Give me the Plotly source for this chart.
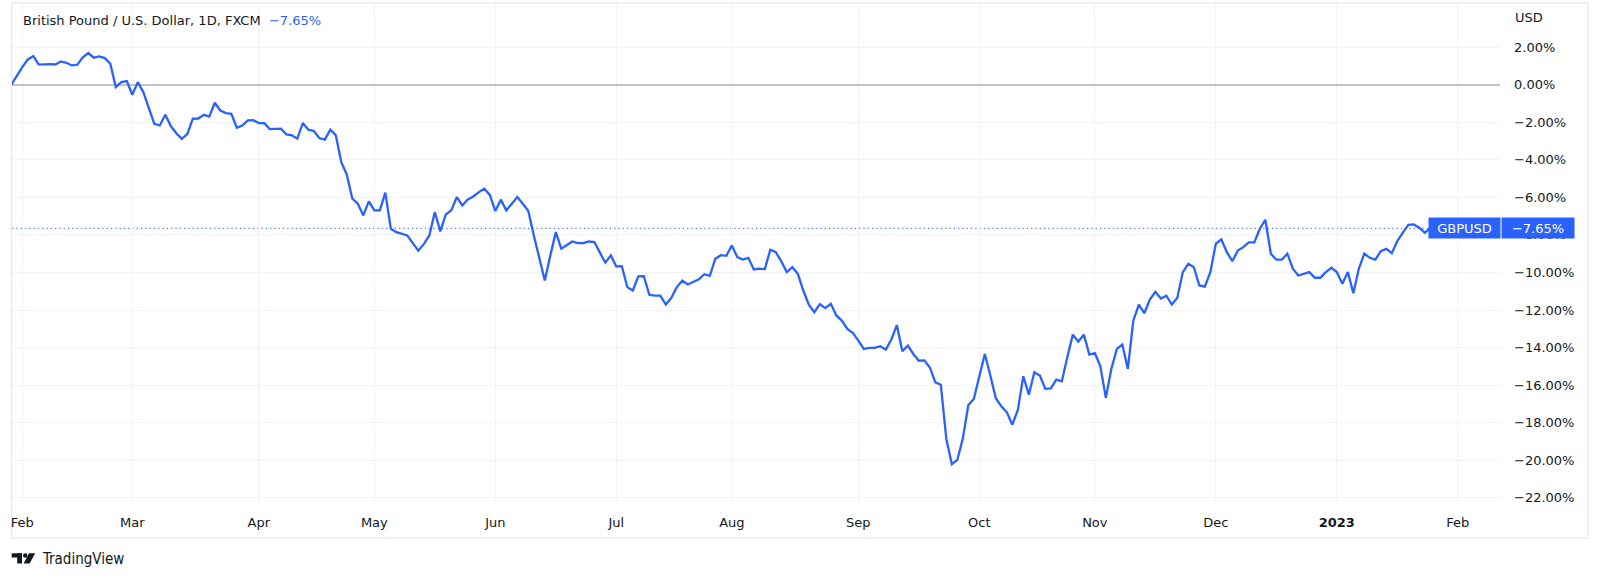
import pandas as pd
import plotly.graph_objects as go

# ---------------- data ----------------
start_date = "2022-01-28"
end_date = "2023-01-25"
dates = pd.bdate_range(start_date, end_date)

pct_change = [
    0.00, 0.50, 0.94, 1.35, 1.53, 1.07, 1.10, 1.10, 1.08, 1.24,
    1.17, 1.03, 1.07, 1.46, 1.69, 1.44, 1.51, 1.42, 1.12, -0.12,
    0.14, 0.20, -0.53, 0.14, -0.39, -1.19, -2.08, -2.17, -1.60, -2.20,
    -2.58, -2.88, -2.63, -1.81, -1.80, -1.60, -1.69, -0.96, -1.37, -1.51,
    -1.55, -2.29, -2.17, -1.90, -1.89, -2.04, -2.05, -2.36, -2.37, -2.34,
    -2.64, -2.69, -2.87, -2.04, -2.39, -2.46, -2.84, -2.92, -2.39, -2.69,
    -4.12, -4.79, -6.07, -6.34, -6.96, -6.21, -6.69, -6.69, -5.75, -7.67,
    -7.85, -7.92, -8.03, -8.44, -8.84, -8.49, -8.03, -6.78, -7.81, -6.91,
    -6.69, -5.98, -6.43, -6.11, -5.95, -5.72, -5.54, -5.87, -6.73, -6.12,
    -6.69, -6.34, -5.98, -6.34, -6.73, -8.03, -9.22, -10.43, -9.09, -7.85,
    -8.74, -8.56, -8.35, -8.44, -8.44, -8.35, -8.38, -8.93, -9.48, -9.09,
    -9.68, -9.66, -10.78, -10.96, -10.21, -10.20, -11.19, -11.23, -11.23, -11.71,
    -11.35, -10.78, -10.43, -10.64, -10.52, -10.36, -10.09, -10.18, -9.27, -9.08,
    -9.11, -8.56, -9.18, -9.31, -9.22, -9.84, -9.80, -9.82, -8.79, -8.92,
    -9.41, -9.98, -9.72, -10.07, -10.96, -11.71, -12.12, -11.69, -11.90, -11.67,
    -12.29, -12.56, -13.01, -13.22, -13.63, -14.07, -14.02, -14.02, -13.93, -14.11,
    -13.57, -12.80, -14.20, -13.90, -14.34, -14.70, -14.68, -15.06, -15.85, -15.98,
    -18.87, -20.21, -19.98, -18.85, -17.06, -16.74, -15.53, -14.34, -15.49, -16.70,
    -17.13, -17.45, -18.11, -17.32, -15.53, -16.51, -15.32, -15.49, -16.20, -16.17,
    -15.71, -15.80, -14.52, -13.31, -13.68, -13.31, -14.37, -14.30, -14.99, -16.68,
    -15.14, -14.07, -13.84, -15.14, -12.56, -11.71, -12.17, -11.44, -11.03, -11.39,
    -11.24, -11.71, -11.35, -9.98, -9.54, -9.72, -10.69, -10.75, -9.98, -8.47,
    -8.24, -8.92, -9.40, -8.83, -8.65, -8.40, -8.40, -7.67, -7.19, -9.00,
    -9.32, -9.32, -9.00, -9.80, -10.16, -10.07, -9.98, -10.28, -10.28, -9.98,
    -9.75, -9.98, -10.60, -9.98, -11.10, -9.80, -9.00, -9.22, -9.32, -8.86,
    -8.74, -8.97, -8.33, -7.88, -7.46, -7.44, -7.62, -7.88, -7.65,
]
last_value = -7.65

month_ticks = ["2022-02-01", "2022-03-01", "2022-04-01", "2022-05-02", "2022-06-01",
               "2022-07-01", "2022-08-01", "2022-09-01", "2022-10-03", "2022-11-01",
               "2022-12-01", "2023-01-02", "2023-02-01"]
month_labels = ["Feb", "Mar", "Apr", "May", "Jun", "Jul", "Aug", "Sep", "Oct",
                "Nov", "Dec", "<b>2023</b>", "Feb"]

y_ticks = [2, 0, -2, -4, -6, -8, -10, -12, -14, -16, -18, -20, -22]
y_labels = ["2.00%", "0.00%", "−2.00%", "−4.00%", "−6.00%", "−8.00%", "−10.00%",
            "−12.00%", "−14.00%", "−16.00%", "−18.00%", "−20.00%", "−22.00%"]

title_text = "British Pound / U.S. Dollar, 1D, FXCM"
symbol = "GBPUSD"

# ---------------- style ----------------
BLUE = "#2962ff"
TEXT = "#131722"
GRID = "#f0f3fa"
FONT = "DejaVu Sans, Inter, sans-serif"
LOGO_FONT = "DejaVu Sans Condensed, Roboto, sans-serif"

W, H = 1600, 580
ML, MR, MT, MB = 12, 100, 3, 77
PW = W - ML - MR
PH = H - MT - MB


def px(x):
    return (x - ML) / PW


def py(y):
    return (H - MB - y) / PH


fig = go.Figure()
fig.add_trace(go.Scatter(
    x=dates[:len(pct_change)], y=pct_change, mode="lines",
    line=dict(color=BLUE, width=2.3), hoverinfo="skip", showlegend=False,
))

shapes = [
    # dotted last-price line
    dict(type="line", xref="paper", x0=0, x1=1, yref="y", y0=last_value, y1=last_value,
         line=dict(color=BLUE, width=1, dash="1.3px,3px"), layer="below"),
    # outer frame
    dict(type="rect", xref="paper", yref="paper", x0=px(11.7), x1=px(1588),
         y0=py(538), y1=py(3), line=dict(color="#e0e3eb", width=1), layer="below"),
    # TradingView logo
    dict(type="rect", xref="paper", yref="paper", x0=px(11.7), x1=px(22.0),
         y0=py(557.5), y1=py(553.3), line=dict(width=0), fillcolor=TEXT),
    dict(type="rect", xref="paper", yref="paper", x0=px(17.2), x1=px(22.0),
         y0=py(563.5), y1=py(553.3), line=dict(width=0), fillcolor=TEXT),
    dict(type="circle", xref="paper", yref="paper", x0=px(23.0), x1=px(27.4),
         y0=py(557.7), y1=py(553.3), line=dict(width=0), fillcolor=TEXT),
    dict(type="path", xref="paper", yref="paper",
         path="M {a},{b} L {c},{b} L {d},{e} L {f},{e} Z".format(
             a=px(29.0), b=py(553.3), c=px(35.2), d=px(29.6), e=py(563.5), f=px(23.6)),
         line=dict(width=0), fillcolor=TEXT),
]

annotations = [
    dict(xref="paper", yref="paper", x=px(21.4), y=py(20.5), xanchor="left", yanchor="middle",
         showarrow=False,
         text=title_text + "&nbsp;&nbsp;<span style='color:%s'>−7.65%%</span>" % BLUE,
         font=dict(family=FONT, size=13, color=TEXT)),
    dict(xref="paper", yref="paper", x=px(1513), y=py(17.3), xanchor="left", yanchor="middle",
         showarrow=False, text="USD", font=dict(family=FONT, size=13, color=TEXT)),
    dict(xref="paper", yref="y", x=px(1427.7), y=last_value, xanchor="left", yanchor="middle",
         showarrow=False, text=symbol, width=71, height=20, bgcolor=BLUE, borderpad=0,
         font=dict(family=FONT, size=13, color="white")),
    dict(xref="paper", yref="y", x=px(1500.7), y=last_value, xanchor="left", yanchor="middle",
         showarrow=False, text="−7.65%", width=72, height=20, bgcolor=BLUE, borderpad=0,
         font=dict(family=FONT, size=13, color="white")),
    dict(xref="paper", yref="paper", x=px(39.5), y=py(559.3), xanchor="left", yanchor="middle",
         showarrow=False, text="TradingView", font=dict(family=LOGO_FONT, size=15, color=TEXT)),
]

fig.update_layout(
    width=W, height=H,
    margin=dict(l=ML, r=MR, t=MT, b=MB),
    paper_bgcolor="white", plot_bgcolor="white",
    showlegend=False, hovermode=False,
    font=dict(family=FONT, size=13, color=TEXT),
    shapes=shapes, annotations=annotations,
    xaxis=dict(
        type="date",
        range=["2022-01-28 03:00", "2023-02-10 16:00"],
        rangebreaks=[dict(bounds=["sat", "mon"])],
        tickmode="array", tickvals=month_ticks, ticktext=month_labels,
        showgrid=True, gridcolor=GRID, gridwidth=1,
        ticks="", ticklabelstandoff=10, showline=False, zeroline=False,
        tickfont=dict(family=FONT, size=13, color=TEXT),
    ),
    yaxis=dict(
        side="right",
        range=[-22.28, 4.355],
        tickmode="array", tickvals=y_ticks, ticktext=y_labels,
        showgrid=True, gridcolor=GRID, gridwidth=1,
        zeroline=True, zerolinecolor="#c3c5cb", zerolinewidth=2,
        ticks="", ticklabelstandoff=13, showline=False,
        tickfont=dict(family=FONT, size=13, color=TEXT),
    ),
)

fig.write_html("out.html", config={"displayModeBar": False},
               post_script="document.body.style.margin='0px';")
